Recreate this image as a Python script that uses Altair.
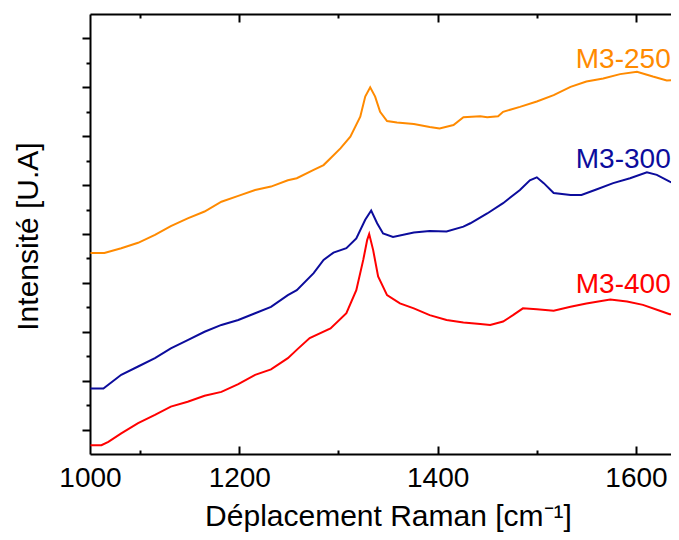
import altair as alt
import pandas as pd

# ---- data ----
series_names = ["M3-250", "M3-300", "M3-400"]
series_colors = ["#FF8A00", "#0C0C9C", "#FF0000"]

wn_250 = [1050, 1064, 1081, 1098, 1115, 1131, 1148, 1165, 1182, 1199, 1216, 1232, 1249, 1258, 1275,
          1285, 1292, 1302, 1312, 1322, 1327, 1332, 1337, 1342, 1349, 1359, 1376, 1392, 1402, 1416,
          1426, 1443, 1450, 1461, 1466, 1483, 1500, 1517, 1534, 1550, 1567, 1584, 1601, 1617, 1631,
          1643, 1650]
int_250 = [3.61, 3.61, 3.71, 3.82, 3.98, 4.16, 4.32, 4.46, 4.66, 4.78, 4.90, 4.97, 5.10, 5.14, 5.31,
           5.41, 5.55, 5.75, 5.99, 6.40, 6.81, 7.00, 6.81, 6.50, 6.31, 6.28, 6.25, 6.19, 6.16, 6.23,
           6.39, 6.41, 6.39, 6.41, 6.50, 6.60, 6.71, 6.84, 7.01, 7.12, 7.18, 7.27, 7.32, 7.22, 7.14,
           7.16, 7.17]

wn_300 = [1050, 1063, 1081, 1098, 1115, 1131, 1148, 1165, 1182, 1199, 1216, 1232, 1249, 1258, 1275,
          1285, 1295, 1308, 1318, 1327, 1333, 1339, 1345, 1355, 1376, 1392, 1409, 1426, 1433, 1450,
          1466, 1483, 1493, 1500, 1507, 1517, 1534, 1545, 1560, 1577, 1594, 1611, 1621, 1634, 1643,
          1650]
int_300 = [0.84, 0.84, 1.12, 1.29, 1.46, 1.66, 1.83, 2.00, 2.14, 2.24, 2.38, 2.51, 2.75, 2.85, 3.20,
           3.47, 3.62, 3.71, 3.91, 4.29, 4.48, 4.22, 4.01, 3.94, 4.03, 4.06, 4.05, 4.15, 4.22, 4.42,
           4.63, 4.90, 5.10, 5.16, 5.04, 4.84, 4.80, 4.80, 4.91, 5.04, 5.14, 5.26, 5.21, 5.07, 5.00,
           4.97]

wn_400 = [1050, 1061, 1068, 1081, 1098, 1115, 1131, 1148, 1165, 1182, 1199, 1216, 1232, 1249, 1259,
          1271, 1292, 1308, 1318, 1325, 1329, 1331, 1335, 1340, 1349, 1362, 1376, 1392, 1409, 1426,
          1443, 1453, 1466, 1476, 1486, 1500, 1517, 1534, 1550, 1574, 1591, 1607, 1624, 1634, 1643,
          1650]
int_400 = [-0.32, -0.32, -0.25, -0.08, 0.13, 0.30, 0.47, 0.57, 0.69, 0.77, 0.93, 1.12, 1.23, 1.46, 1.65,
           1.87, 2.07, 2.38, 2.85, 3.47, 3.88, 4.00, 3.67, 3.13, 2.75, 2.58, 2.48, 2.34, 2.24, 2.19,
           2.16, 2.14, 2.21, 2.34, 2.48, 2.46, 2.43, 2.51, 2.58, 2.66, 2.62, 2.55, 2.43, 2.36, 2.34,
           2.33]

label_x = [1635, 1635, 1635]
label_y = [7.39, 5.34, 2.79]

# visible part of the x range (the reference continues a few pixels past the page edge)
x_domain = [1049.5, 1635.3]
y_domain = [-0.5, 8.5]
x_label_values = [1049.5, 1200, 1400, 1600]
x_major = [1200, 1400, 1600]
x_minor = [1100, 1300, 1500]
y_major = [0, 1, 2, 3, 4, 5, 6, 7, 8]
y_minor = [0.5, 1.5, 2.5, 3.5, 4.5, 5.5, 6.5, 7.5]

# ---- tables ----
rows = []
for name, xs_, ys_ in zip(series_names, [wn_250, wn_300, wn_400], [int_250, int_300, int_400]):
    for a, b in zip(xs_, ys_):
        rows.append({"series": name, "wn": a, "inten": b})
df = pd.DataFrame(rows)
labels_df = pd.DataFrame({"series": series_names, "wn": label_x, "inten": label_y})

W, H = 581, 440
FONT = "Liberation Sans"
xs = alt.Scale(domain=x_domain, nice=False, zero=False)
ys = alt.Scale(domain=y_domain, nice=False, zero=False)
cs = alt.Scale(domain=series_names, range=series_colors)


def tick_axis(orient, values, size, offset=0, domain=False):
    return alt.Axis(orient=orient, values=values, tickSize=size, tickWidth=2, tickColor="black",
                    offset=offset, labels=False, title=None, grid=False, domain=domain,
                    domainColor="black", domainWidth=2)


def ghost(xaxis, yaxis):
    return alt.Chart(df).mark_line(strokeOpacity=0, clip=True).encode(
        x=alt.X("wn:Q", scale=xs, axis=xaxis),
        y=alt.Y("inten:Q", scale=ys, axis=yaxis),
        detail="series:N",
    )


main_x_axis = alt.Axis(
    orient="bottom", values=x_label_values, format="d",
    labelExpr="datum.value < 1100 ? '1000' : datum.label",
    ticks=False, tickSize=0, labelFlush=False, labelOverlap=False,
    labelFont=FONT, labelFontSize=28, labelColor="black", labelPadding=32,
    labelBaseline="alphabetic",
    domain=True, domainColor="black", domainWidth=2, grid=False,
    title="Déplacement Raman [cm⁻¹]", titleFont=FONT, titleFontSize=30,
    titleFontWeight="normal", titleColor="black", titleX=298, titleY=71,
    titleBaseline="alphabetic", titleAlign="center", titleAnchor="middle",
)
main_y_axis = alt.Axis(
    orient="left", values=y_major, tickSize=8, tickWidth=2, tickColor="black",
    labels=False, domain=True, domainColor="black", domainWidth=2, grid=False,
    title="Intensité [U.A]", titleFont=FONT, titleFontSize=30, titleFontWeight="normal",
    titleColor="black", titleAngle=270, titleX=-53, titleY=222,
    titleBaseline="alphabetic", titleAlign="center",
)

lines = alt.Chart(df).mark_line(strokeWidth=2, clip=True).encode(
    x=alt.X("wn:Q", scale=xs, axis=main_x_axis),
    y=alt.Y("inten:Q", scale=ys, axis=main_y_axis),
    color=alt.Color("series:N", scale=cs, legend=None),
    order="wn:Q",
)

texts = alt.Chart(labels_df).mark_text(
    align="right", baseline="alphabetic", font=FONT, fontSize=28
).encode(
    x=alt.X("wn:Q", scale=xs, axis=None),
    y=alt.Y("inten:Q", scale=ys, axis=None),
    text="series:N",
    color=alt.Color("series:N", scale=cs, legend=None),
)

g1 = ghost(tick_axis("top", x_major, 8, offset=-H), tick_axis("left", y_minor, 4))
g2 = ghost(tick_axis("top", x_minor, 4, offset=-H), None)
g3 = ghost(tick_axis("bottom", x_major, 8, offset=-H, domain=True), None)
g4 = ghost(tick_axis("bottom", x_minor, 4, offset=-H), None)

chart = alt.layer(lines, texts, g1, g2, g3, g4).resolve_axis(
    x="independent", y="independent"
).properties(
    width=W, height=H,
    autosize=alt.AutoSizeParams(type="none"),
    padding={"left": 82, "top": 6, "right": 0, "bottom": 78},
    background="white",
).configure_view(stroke=None)

chart.save("out.html", embed_options={"renderer": "svg", "actions": False})
